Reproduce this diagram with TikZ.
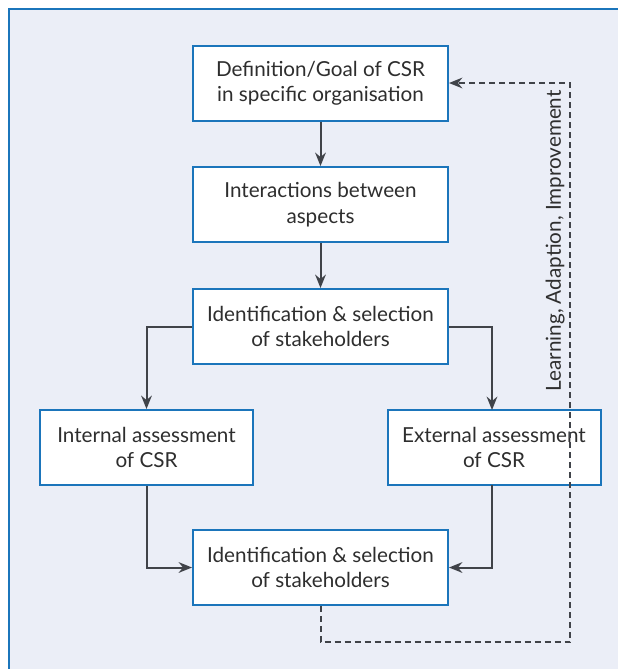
\documentclass[tikz,border=0pt]{standalone}
\usepackage{fontspec}
\setmainfont{Lato}
\usetikzlibrary{arrows.meta}
\definecolor{framebg}{HTML}{EBEEF7}
\definecolor{frameblue}{HTML}{1B75BB}
\definecolor{arrowgray}{HTML}{404349}
\definecolor{txt}{HTML}{2E2E2E}
\tikzset{
  box/.style={draw=frameblue, line width=1.5pt, fill=white, minimum width=255*0.75pt, minimum height=75*0.75pt, align=center, font=\fontsize{15.5}{19}\selectfont, text=txt, inner sep=0pt},
  sidebox/.style={box, minimum width=213*0.75pt},
  conn/.style={draw=arrowgray, line width=1.5pt, -{Stealth[length=10pt,width=8pt]}},
  fb/.style={draw=arrowgray, line width=1.5pt, dash pattern=on 4.5pt off 3pt, -{Stealth[length=10pt,width=8pt]}}
}
\begin{document}
\begin{tikzpicture}[x=0.75pt,y=-0.75pt]
\useasboundingbox (0,0) rectangle (618,669);
\clip (0,0) rectangle (618,669);
\draw[frameblue, line width=1.5pt, fill=framebg] (9,9) rectangle (640,700);
\node[box] (def) at (320.5,83) {Definition/Goal of CSR\\in specific organisation};
\node[box] (int) at (320.5,204.5) {Interactions between\\aspects};
\node[box] (ids) at (320.5,326.5) {Identification \& selection\\of stakeholders};
\node[sidebox] (ia) at (146.5,447.5) {Internal assessment\\of CSR};
\node[sidebox] (ea) at (494,447.5) {External assessment\\of CSR};
\node[box] (ids2) at (320.5,567.5) {Identification \& selection\\of stakeholders};
\coordinate (c1) at (570,642);
\coordinate (c2) at (570,83);
\draw[conn] (def) -- (int);
\draw[conn] (int) -- (ids);
\draw[conn] (ids.west) -| (ia.north);
\draw[conn] (ids.east) -| (492,410);
\draw[conn] (ia.south) |- (ids2.west);
\draw[conn] (492,485) |- (ids2.east);
\draw[fb] (ids2.south) |- (c1) -- (c2) -- (def.east);
\node[rotate=90, anchor=south east, font=\fontsize{15.5}{19}\selectfont, text=txt, inner sep=0pt] (lbl) at (565,90) {Learning, Adaption, Improvement};
\end{tikzpicture}
\end{document}
